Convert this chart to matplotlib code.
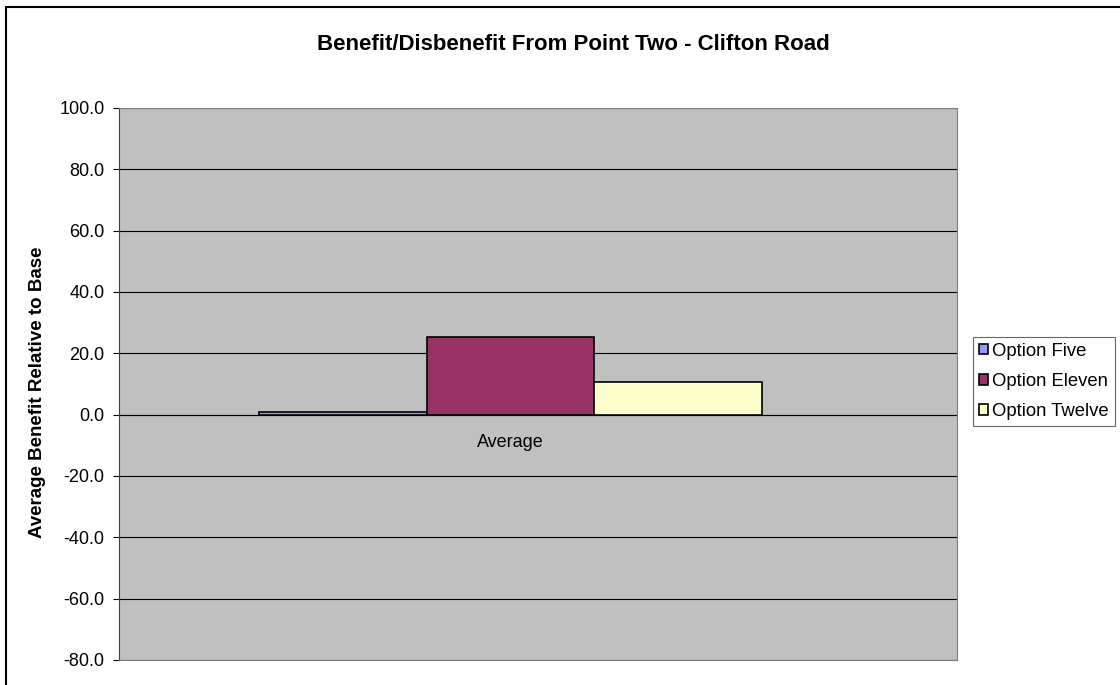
import matplotlib
matplotlib.use("Agg")
import matplotlib.pyplot as plt
from matplotlib.patches import Rectangle

categories = ["Average"]
series_names = ["Option Five", "Option Eleven", "Option Twelve"]
series_values = [[0.8], [25.4], [10.6]]
series_colors = ["#9999FF", "#993366", "#FFFFCC"]
yticks = [-80, -60, -40, -20, 0, 20, 40, 60, 80, 100]

plt.rcParams['font.family'] = ['Liberation Sans', 'DejaVu Sans']

W, H = 1120, 685
fig = plt.figure(figsize=(W/100, H/100), dpi=100)
fig.patch.set_facecolor("white")

# outer chart border (runs off the right and bottom edges)
fig.patches.append(Rectangle((6/W, -0.1), 1.2, 1.1 - 7/H, transform=fig.transFigure,
                             fill=False, edgecolor="black", linewidth=1.5, clip_on=False))

left, right, top, bottom = 119, 957, 108, 660
ax = fig.add_axes([left/W, 1 - bottom/H, (right-left)/W, (bottom-top)/H])
ax.set_facecolor("#C0C0C0")

n = len(series_names)
width = 0.2
for i, (name, vals, col) in enumerate(zip(series_names, series_values, series_colors)):
    xs = [c + (i - (n-1)/2) * width for c in range(len(categories))]
    ax.bar(xs, vals, width=width, color=col, edgecolor="black", linewidth=1.2,
           label=name, zorder=3)

# the Excel plot places the category slightly left of the plot centre
ax.set_xlim(-0.467, len(categories) - 0.467)
ax.set_ylim(-80, 100)
ax.set_yticks(yticks)
ax.set_yticklabels([f"{v:.1f}" for v in yticks], fontsize=13)
ax.yaxis.grid(True, color="black", linewidth=0.8, zorder=1)
ax.set_axisbelow(True)
ax.tick_params(axis='y', length=4.5, width=0.8, color="black", pad=6)
ax.set_xticks([])
for c, lab in enumerate(categories):
    ax.annotate(lab, (c, 0), xytext=(0, -20), textcoords="offset points",
                ha="center", va="center", fontsize=13)
ax.axhline(0, color="black", linewidth=0.8, zorder=2)

ax.spines['left'].set_color("#404040")
ax.spines['top'].set_color("#808080")
ax.spines['right'].set_color("#808080")
ax.spines['bottom'].set_color("#808080")

fig.text(38/W, 1 - 392/H, "Average Benefit Relative to Base", rotation=90,
         ha="center", va="center", fontsize=13.5, fontweight="bold")
fig.text(573/W, 1 - 45/H, "Benefit/Disbenefit From Point Two - Clifton Road",
         ha="center", va="center", fontsize=16, fontweight="bold")

leg = fig.legend(loc="upper left", bbox_to_anchor=(973/W, 1 - 337/H), fontsize=13.3,
                 frameon=True, fancybox=False, edgecolor="#404040", borderpad=0.3,
                 handlelength=0.5, handleheight=0.5, handletextpad=0.25, labelspacing=0.72,
                 borderaxespad=0)
leg.get_frame().set_linewidth(0.8)

fig.savefig("out.png", dpi=100)
